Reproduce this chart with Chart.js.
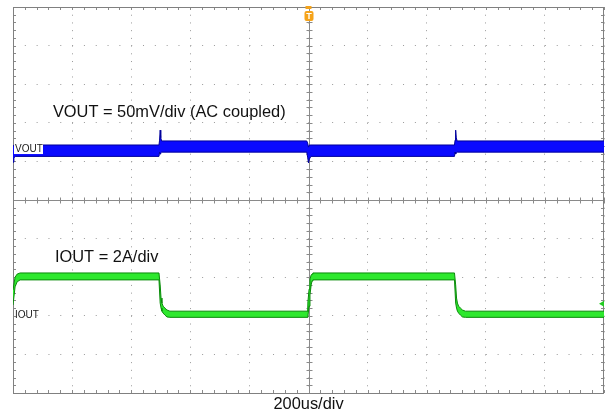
<!DOCTYPE html>
<html>
<head>
<meta charset="utf-8">
<script src="https://cdn.jsdelivr.net/npm/chart.js@4/dist/chart.umd.min.js"></script>
<style>
  html, body { margin: 0; padding: 0; background: #fff; }
  #wrap { width: 606px; height: 412px; }
</style>
</head>
<body>
<div id="wrap"><canvas id="scope"></canvas></div>
<script>
// time in us (200us/div, 10 div), amplitude in divisions from screen centre
const timeVout = [0, 3, 8, 494, 496, 498, 500, 503, 994, 997, 1000, 1003, 1008, 1494, 1496, 1498, 1500, 1503, 2000];
const voutUpper = [1.40, 1.425, 1.425, 1.425, 1.55, 1.81, 1.61, 1.53, 1.53, 1.48, 1.37, 1.425, 1.425, 1.425, 1.55, 1.81, 1.61, 1.53, 1.53];
const voutLower = [0.98, 1.09, 1.13, 1.13, 1.24, 1.19, 1.22, 1.24, 1.24, 1.11, 0.96, 1.06, 1.13, 1.13, 1.24, 1.19, 1.22, 1.24, 1.24];

const timeIout = [0, 7, 14, 24, 494, 498, 501, 504, 508, 514, 521, 531, 995, 998, 1002, 1005, 1009, 1012, 1015, 1494, 1498, 1501, 1504, 1508, 1514, 1521, 1531, 2000];
const ioutUpper = [-2.33, -2.00, -1.92, -1.89, -1.89, -2.20, -2.54, -2.67, -2.75, -2.80, -2.85, -2.88, -2.88, -2.64, -2.31, -2.05, -1.94, -1.92, -1.89, -1.89, -2.20, -2.54, -2.67, -2.75, -2.80, -2.85, -2.88, -2.88];
const ioutLower = [-2.72, -2.25, -2.12, -2.07, -2.07, -2.67, -2.80, -2.88, -2.93, -2.98, -3.03, -3.04, -3.04, -3.01, -2.75, -2.46, -2.20, -2.10, -2.07, -2.07, -2.67, -2.80, -2.88, -2.93, -2.98, -3.03, -3.04, -3.04];

// channel markers (ground reference), in divisions
const voutRef = 1.32;
const ioutRef = -2.98;
const triggerTime = 1000;
const triggerLevel = -2.69;

const voutNote = 'VOUT = 50mV/div (AC coupled)';
const ioutNote = 'IOUT = 2A/div';
const timebase = '200us/div';

const pts = (t, v) => t.map((x, i) => ({ x: x, y: v[i] }));

const font = '16.4px "Liberation Sans", Arial, sans-serif';

const scopeDecor = {
  id: 'scopeDecor',
  beforeDatasetsDraw(chart) {
    const { ctx, chartArea: a, scales: { x, y } } = chart;
    ctx.save();
    ctx.strokeStyle = '#8a8a8a';
    ctx.lineWidth = 1;
    const cx = Math.round(x.getPixelForValue(1000)) + 0.5;
    const cy = Math.round(y.getPixelForValue(0)) + 0.5;
    ctx.beginPath();
    ctx.moveTo(a.left, cy); ctx.lineTo(a.right, cy);
    ctx.moveTo(cx, a.top); ctx.lineTo(cx, a.bottom);
    // minor ticks on the centre lines and the border
    for (let t = 0; t <= 2000; t += 40) {
      const px = Math.round(x.getPixelForValue(t)) + 0.5;
      ctx.moveTo(px, cy - 3); ctx.lineTo(px, cy + 3);
      ctx.moveTo(px, a.top); ctx.lineTo(px, a.top + 3);
      ctx.moveTo(px, a.bottom); ctx.lineTo(px, a.bottom - 3);
    }
    for (let v = -5; v <= 5.001; v += 0.2) {
      const py = Math.round(y.getPixelForValue(v)) + 0.5;
      ctx.moveTo(cx - 3, py); ctx.lineTo(cx + 3, py);
      ctx.moveTo(a.left, py); ctx.lineTo(a.left + 3, py);
      ctx.moveTo(a.right, py); ctx.lineTo(a.right - 3, py);
    }
    ctx.stroke();
    ctx.strokeStyle = '#808080';
    ctx.strokeRect(Math.round(a.left) + 0.5, Math.round(a.top) + 0.5,
      Math.round(a.right - a.left) - 1, Math.round(a.bottom - a.top));
    ctx.restore();
  },
  afterDatasetsDraw(chart) {
    const { ctx, chartArea: a, scales: { x, y } } = chart;
    ctx.save();
    // notes
    ctx.fillStyle = '#111';
    ctx.font = font;
    ctx.textBaseline = 'middle';
    ctx.textAlign = 'left';
    ctx.fillText(voutNote, x.getPixelForValue(135), y.getPixelForValue(2.28));
    ctx.fillText(ioutNote, x.getPixelForValue(142), y.getPixelForValue(-1.50));
    ctx.textAlign = 'center';
    ctx.fillText(timebase, x.getPixelForValue(1000), a.bottom + 11);

    // channel labels
    ctx.font = '10px "Liberation Sans", Arial, sans-serif';
    ctx.textAlign = 'left';
    let py = y.getPixelForValue(voutRef);
    ctx.fillStyle = '#fff';
    ctx.fillRect(a.left + 1, py - 5, 29, 10);
    ctx.fillStyle = '#222';
    ctx.fillText('VOUT', a.left + 2, py + 0.5);
    py = y.getPixelForValue(ioutRef);
    ctx.fillText('IOUT', a.left + 2, py + 0.5);

    // trigger marker
    const tx = x.getPixelForValue(triggerTime);
    ctx.fillStyle = '#f5a31a';
    ctx.fillRect(tx - 3, a.top - 1, 6, 3);
    ctx.beginPath();
    ctx.roundRect(tx - 4, a.top + 4, 9, 10, 2);
    ctx.fill();
    ctx.fillStyle = '#fff';
    ctx.font = 'bold 9px "Liberation Sans", Arial, sans-serif';
    ctx.textAlign = 'center';
    ctx.fillText('T', tx + 0.5, a.top + 9.5);

    // trigger level arrow
    const ly = y.getPixelForValue(triggerLevel);
    ctx.fillStyle = '#22cc22';
    ctx.beginPath();
    ctx.moveTo(a.right - 5, ly);
    ctx.lineTo(a.right, ly - 3);
    ctx.lineTo(a.right, ly + 3);
    ctx.closePath();
    ctx.fill();
    ctx.restore();
  }
};

new Chart(document.getElementById('scope'), {
  type: 'line',
  data: {
    datasets: [
      { label: 'VOUT max', data: pts(timeVout, voutUpper), borderColor: '#00009a', borderWidth: 1, fill: false },
      { label: 'VOUT min', data: pts(timeVout, voutLower), borderColor: '#00009a', borderWidth: 1, backgroundColor: '#0a0aff', fill: '-1' },
      { label: 'IOUT max', data: pts(timeIout, ioutUpper), borderColor: '#0a8a0a', borderWidth: 1, fill: false },
      { label: 'IOUT min', data: pts(timeIout, ioutLower), borderColor: '#0a8a0a', borderWidth: 1, backgroundColor: '#2ee82e', fill: '-1' }
    ]
  },
  options: {
    responsive: true,
    maintainAspectRatio: false,
    animation: false,
    layout: { padding: { left: 13, top: 7, right: 2, bottom: 19 } },
    elements: { point: { radius: 0 }, line: { tension: 0 } },
    plugins: { legend: { display: false }, tooltip: { enabled: false } },
    scales: {
      x: {
        type: 'linear', min: 0, max: 2000,
        ticks: { display: false, stepSize: 200 },
        grid: { color: '#9a9a9a', drawTicks: false },
        border: { display: false, dash: [1, 6.72] },
        afterFit: s => { s.height = 0; }
      },
      y: {
        type: 'linear', min: -5, max: 5,
        ticks: { display: false, stepSize: 1 },
        grid: { color: '#9a9a9a', drawTicks: false },
        border: { display: false, dash: [1, 10.82] },
        afterFit: s => { s.width = 0; }
      }
    }
  },
  plugins: [scopeDecor]
});
</script>
</body>
</html>
